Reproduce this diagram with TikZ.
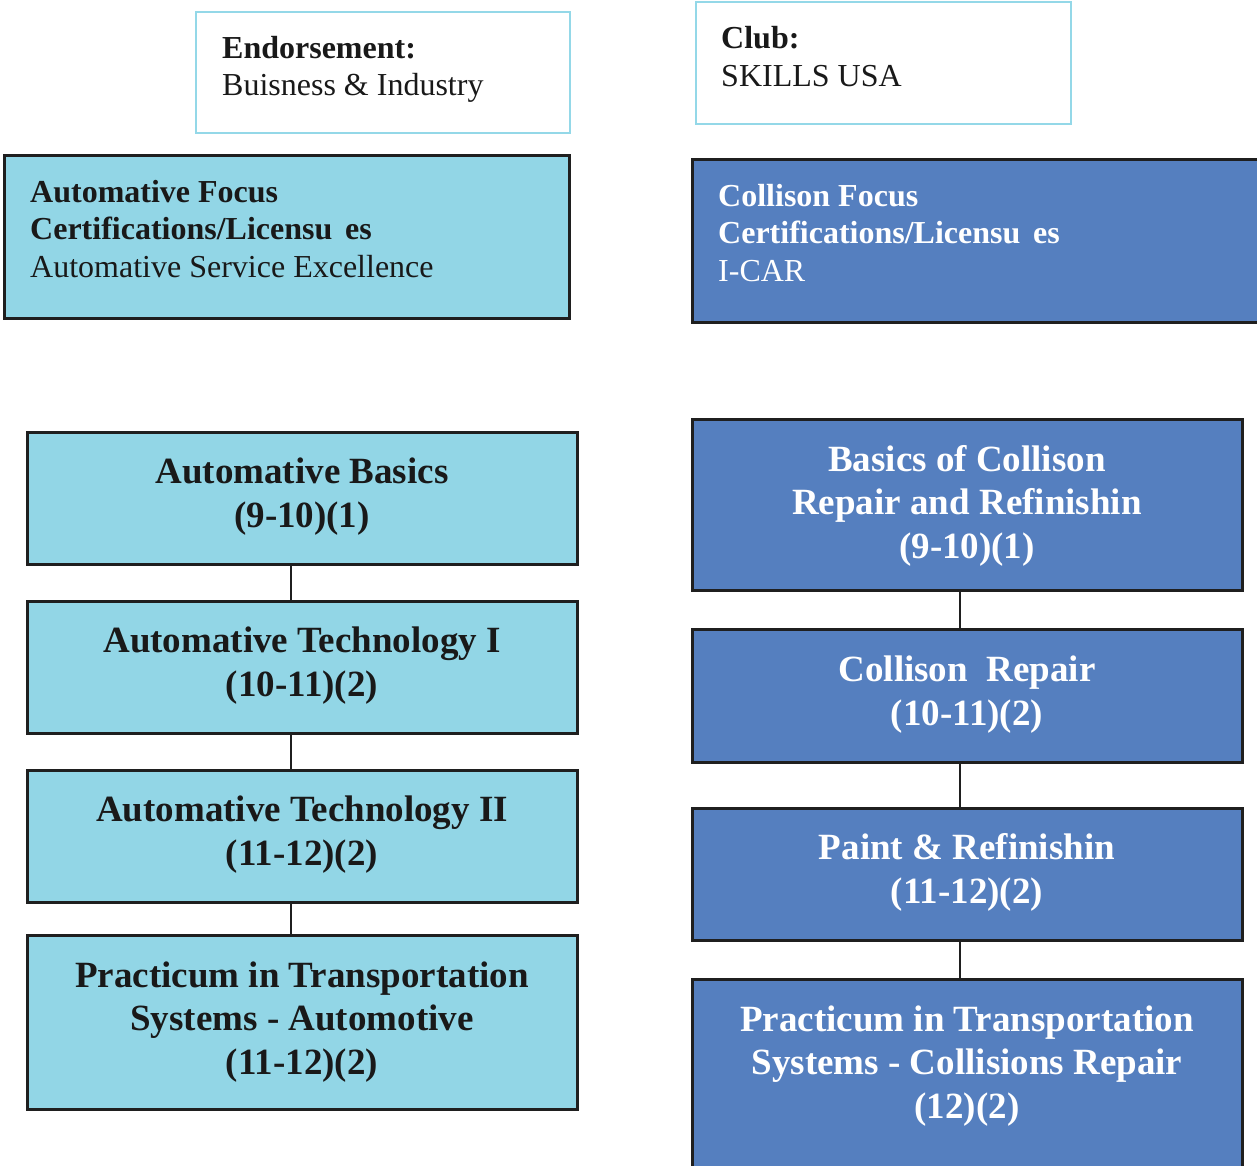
\documentclass[tikz,border=0pt]{standalone}
\usepackage{fontspec}
\setmainfont{Liberation Serif}
\usetikzlibrary{calc}
\definecolor{lightfill}{RGB}{146,214,230}
\definecolor{bluefill}{RGB}{85,127,191}
\definecolor{lightedge}{RGB}{148,216,232}
\definecolor{darktext}{RGB}{25,25,25}
\begin{document}
\begin{tikzpicture}[x=1pt,y=-1pt,
  whitebox/.style={draw=lightedge, line width=2.5pt, fill=white, inner sep=0pt, rectangle},
  lbox/.style={draw=black!88, line width=3pt, fill=lightfill, inner sep=0pt, rectangle},
  bbox/.style={draw=black!88, line width=3pt, fill=bluefill, inner sep=0pt, rectangle},
  conn/.style={draw=black!88, line width=2.2pt},
  bigtext/.style={inner sep=0pt, anchor=base, align=center, font=\fontsize{37}{43.5}\selectfont\bfseries},
  smalltext/.style={inner sep=0pt, anchor=base west, align=left, font=\fontsize{32}{37.5}\selectfont},
]
\useasboundingbox (0,0) rectangle (1257,1165);

% top boxes
\node[whitebox, minimum width=374, minimum height=121] (endo) at (383,72.5) {};
\node[whitebox, minimum width=375, minimum height=122] (club) at (883.5,63) {};
\node[lbox, minimum width=565, minimum height=163] (afocus) at (286.5,236.5) {};
\node[bbox, minimum width=578, minimum height=163] (cfocus) at (981,240.5) {};

% (anchor = baseline of the last line)
\node[smalltext, text=darktext] (endot) at (222,95.5) {\textbf{Endorsement:}\\Buisness \& Industry};
\node[smalltext, text=darktext] (clubt) at (721,86) {\textbf{Club:}\\SKILLS USA};
\node[smalltext, text=darktext] (afocust) at (30,277) {\textbf{Automative Focus}\\\textbf{Certifications/Licensu\hspace{0.15em} es}\\Automative Service Excellence};
\node[smalltext, text=white] (cfocust) at (718,281) {\textbf{Collison Focus}\\\textbf{Certifications/Licensu\hspace{0.15em} es}\\I-CAR};

% left chain
\node[lbox, minimum width=550, minimum height=132] (ab) at (302,498) {};
\node[lbox, minimum width=550, minimum height=132] (at1) at (302,667) {};
\node[lbox, minimum width=550, minimum height=132] (at2) at (302,836) {};
\node[lbox, minimum width=550, minimum height=174] (ap) at (302,1022) {};

% right chain
\node[bbox, minimum width=550, minimum height=171] (cb) at (967,504.5) {};
\node[bbox, minimum width=550, minimum height=133] (cr) at (967,695.5) {};
\node[bbox, minimum width=550, minimum height=132] (pr) at (967,874) {};
\node[bbox, minimum width=550, minimum height=196] (cp) at (967,1077) {};

% connectors
\coordinate (lx) at (291,0);
\coordinate (rx) at (960,0);
\draw[conn] (ab.south -| lx) -- (at1.north -| lx);
\draw[conn] (at1.south -| lx) -- (at2.north -| lx);
\draw[conn] (at2.south -| lx) -- (ap.north -| lx);
\draw[conn] (cb.south -| rx) -- (cr.north -| rx);
\draw[conn] (cr.south -| rx) -- (pr.north -| rx);
\draw[conn] (pr.south -| rx) -- (cp.north -| rx);

% chain texts (anchor = baseline of the last line)
\node[bigtext, text=darktext] (abt) at (302,527) {Automative Basics\\(9-10)(1)};
\node[bigtext, text=darktext] (at1t) at (302,696) {Automative Technology I\\(10-11)(2)};
\node[bigtext, text=darktext] (at2t) at (302,865) {Automative Technology II\\(11-12)(2)};
\node[bigtext, text=darktext] (apt) at (302,1074) {Practicum in Transportation\\Systems - Automotive\\(11-12)(2)};

\node[bigtext, text=white] (cbt) at (967,558) {Basics of Collison\\Repair and Refinishin\\(9-10)(1)};
\node[bigtext, text=white] (crt) at (967,725) {Collison\ \ Repair\\(10-11)(2)};
\node[bigtext, text=white] (prt) at (967,903) {Paint \& Refinishin\\(11-12)(2)};
\node[bigtext, text=white] (cpt) at (967,1118) {Practicum in Transportation\\Systems - Collisions Repair\\(12)(2)};
\end{tikzpicture}
\end{document}
